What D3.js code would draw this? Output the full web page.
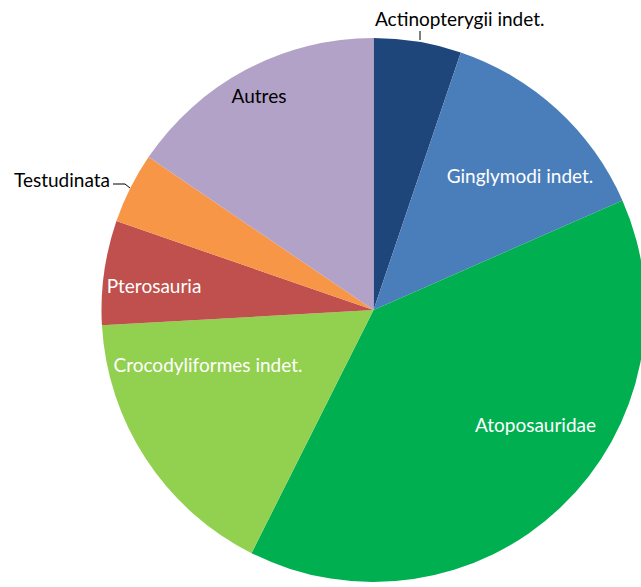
<!DOCTYPE html>
<html><head><meta charset="utf-8">
<script src="https://cdn.jsdelivr.net/npm/d3@7"></script>
<style>body{margin:0;background:#fff}svg{display:block}</style>
</head><body>
<svg id="c" width="641" height="587"></svg>
<script>
const categories = ["Actinopterygii indet.","Ginglymodi indet.","Atoposauridae","Crocodyliformes indet.","Pterosauria","Testudinata","Autres"];
const values = [5.2,13.2,39.0,16.7,6.2,4.2,15.5];
const colors = ["#1f467b","#4a7ebb","#00b050","#92d050","#c0504d","#f79646","#b3a2c7"];
const labelColors = ["#000","#fff","#fff","#fff","#fff","#000","#000"];

const svg = d3.select("#c");
const cx = 373.5, cy = 310, R = 272;
const g = svg.append("g").attr("transform", `translate(${cx},${cy})`);
const pie = d3.pie().sort(null).value(d => d)(values);
const arc = d3.arc().innerRadius(0).outerRadius(R);
g.selectAll("path").data(pie).join("path")
  .attr("d", arc).attr("fill", (d,i) => colors[i]);

const lp = [
  {x:375, y:26, a:"start"}, {x:520, y:183, a:"middle"}, {x:535.5, y:432, a:"middle"},
  {x:208, y:372, a:"middle"}, {x:154, y:293, a:"middle"}, {x:110, y:187, a:"end"},
  {x:259, y:103, a:"middle"}
];
svg.selectAll("text.l").data(categories).join("text")
  .attr("class","l")
  .attr("x",(d,i)=>lp[i].x).attr("y",(d,i)=>lp[i].y)
  .attr("text-anchor",(d,i)=>lp[i].a)
  .attr("font-family","Lato, 'Open Sans', sans-serif")
  .attr("font-size",19)
  .attr("fill",(d,i)=>labelColors[i])
  .text(d=>d);

svg.append("path").attr("d","M420,31L420,40").attr("stroke","#000").attr("fill","none").attr("stroke-width",1);
svg.append("path").attr("d","M113,184L125,184L130,188").attr("stroke","#000").attr("fill","none").attr("stroke-width",1);
</script>
</body></html>
